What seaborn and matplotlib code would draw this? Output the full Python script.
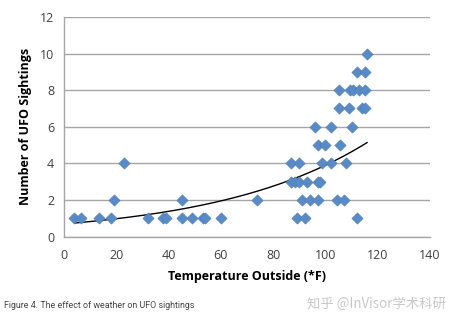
import numpy as np
import pandas as pd
import matplotlib
matplotlib.use("Agg")
import matplotlib.pyplot as plt
import seaborn as sns

temperature = [4, 6.5, 13.5, 18, 32, 38, 39, 45, 49, 53, 54, 60,
               19, 45, 74, 23,
               89, 92, 112,
               91, 94, 97, 104.5, 107,
               87, 88.5, 90, 93, 97, 98,
               87, 90, 98.5, 102, 108,
               97, 100, 105.5,
               96, 102, 110,
               105, 109, 114, 115,
               105, 109.5, 110.5, 113, 115,
               112, 115,
               116]
sightings = [1, 1, 1, 1, 1, 1, 1, 1, 1, 1, 1, 1,
             2, 2, 2, 4,
             1, 1, 1,
             2, 2, 2, 2, 2,
             3, 3, 3, 3, 3, 3,
             4, 4, 4, 4, 4,
             5, 5, 5,
             6, 6, 6,
             7, 7, 7, 7,
             8, 8, 8, 8, 8,
             9, 9,
             10]
x_ticks = [0, 20, 40, 60, 80, 100, 120, 140]
y_ticks = [0, 2, 4, 6, 8, 10, 12]

df = pd.DataFrame({"temp": temperature, "n": sightings})

# exponential trendline (least squares on log y, as in a spreadsheet trendline)
b, ln_a = np.polyfit(df["temp"], np.log(df["n"]), 1)
tx = np.linspace(min(temperature), max(temperature), 200)
trend = pd.DataFrame({"temp": tx, "n": np.exp(ln_a) * np.exp(b * tx)})

sns.set_style("white")
plt.rcParams["font.family"] = ["Open Sans", "DejaVu Sans"]

fig = plt.figure(figsize=(4.55, 3.21), dpi=100)
ax = fig.add_axes([64 / 455, 1 - 236.5 / 321, (430 - 64) / 455, (236.5 - 17) / 321])

ax.set_xlim(0, 140)
ax.set_ylim(0, 12)
ax.set_xticks(x_ticks)
ax.set_yticks(y_ticks)
ax.yaxis.grid(True, color="#a6a6a6", linewidth=1.0)
ax.set_axisbelow(True)

sns.lineplot(data=trend, x="temp", y="n", ax=ax, color="black", linewidth=1.0, zorder=2)
sns.scatterplot(data=df, x="temp", y="n", ax=ax, marker="D", s=32,
                color="#5a8ac6", edgecolor="#4f81bd", linewidth=0.5, zorder=3)

for s in ["top", "right"]:
    ax.spines[s].set_visible(False)
for s in ["left", "bottom"]:
    ax.spines[s].set_color("#a6a6a6")
    ax.spines[s].set_linewidth(1.0)

ax.tick_params(axis="both", which="both", direction="out", length=4, width=1,
               color="#a6a6a6", labelsize=9, labelcolor="#404040", pad=3)
ax.tick_params(axis="x", pad=5)

ax.set_xlabel("Temperature Outside (*F)", fontsize=9, fontweight="bold", color="black", labelpad=6)
ax.set_ylabel("Number of UFO Sightings", fontsize=9, fontweight="bold", color="black", labelpad=6)

fig.text(4 / 455, 1 - 306 / 321, "Figure 4. The effect of weather on UFO sightings",
         fontsize=6.4, color="#444444", family=["Roboto", "DejaVu Sans"], va="center", ha="left")
fig.text(446 / 455, 1 - 304 / 321, "知乎 @InVisor学术科研",
         fontsize=9.6, color="#c8c8c8", family=["Noto Sans CJK SC", "DejaVu Sans"],
         va="center", ha="right")

fig.savefig("out.png", dpi=100)
